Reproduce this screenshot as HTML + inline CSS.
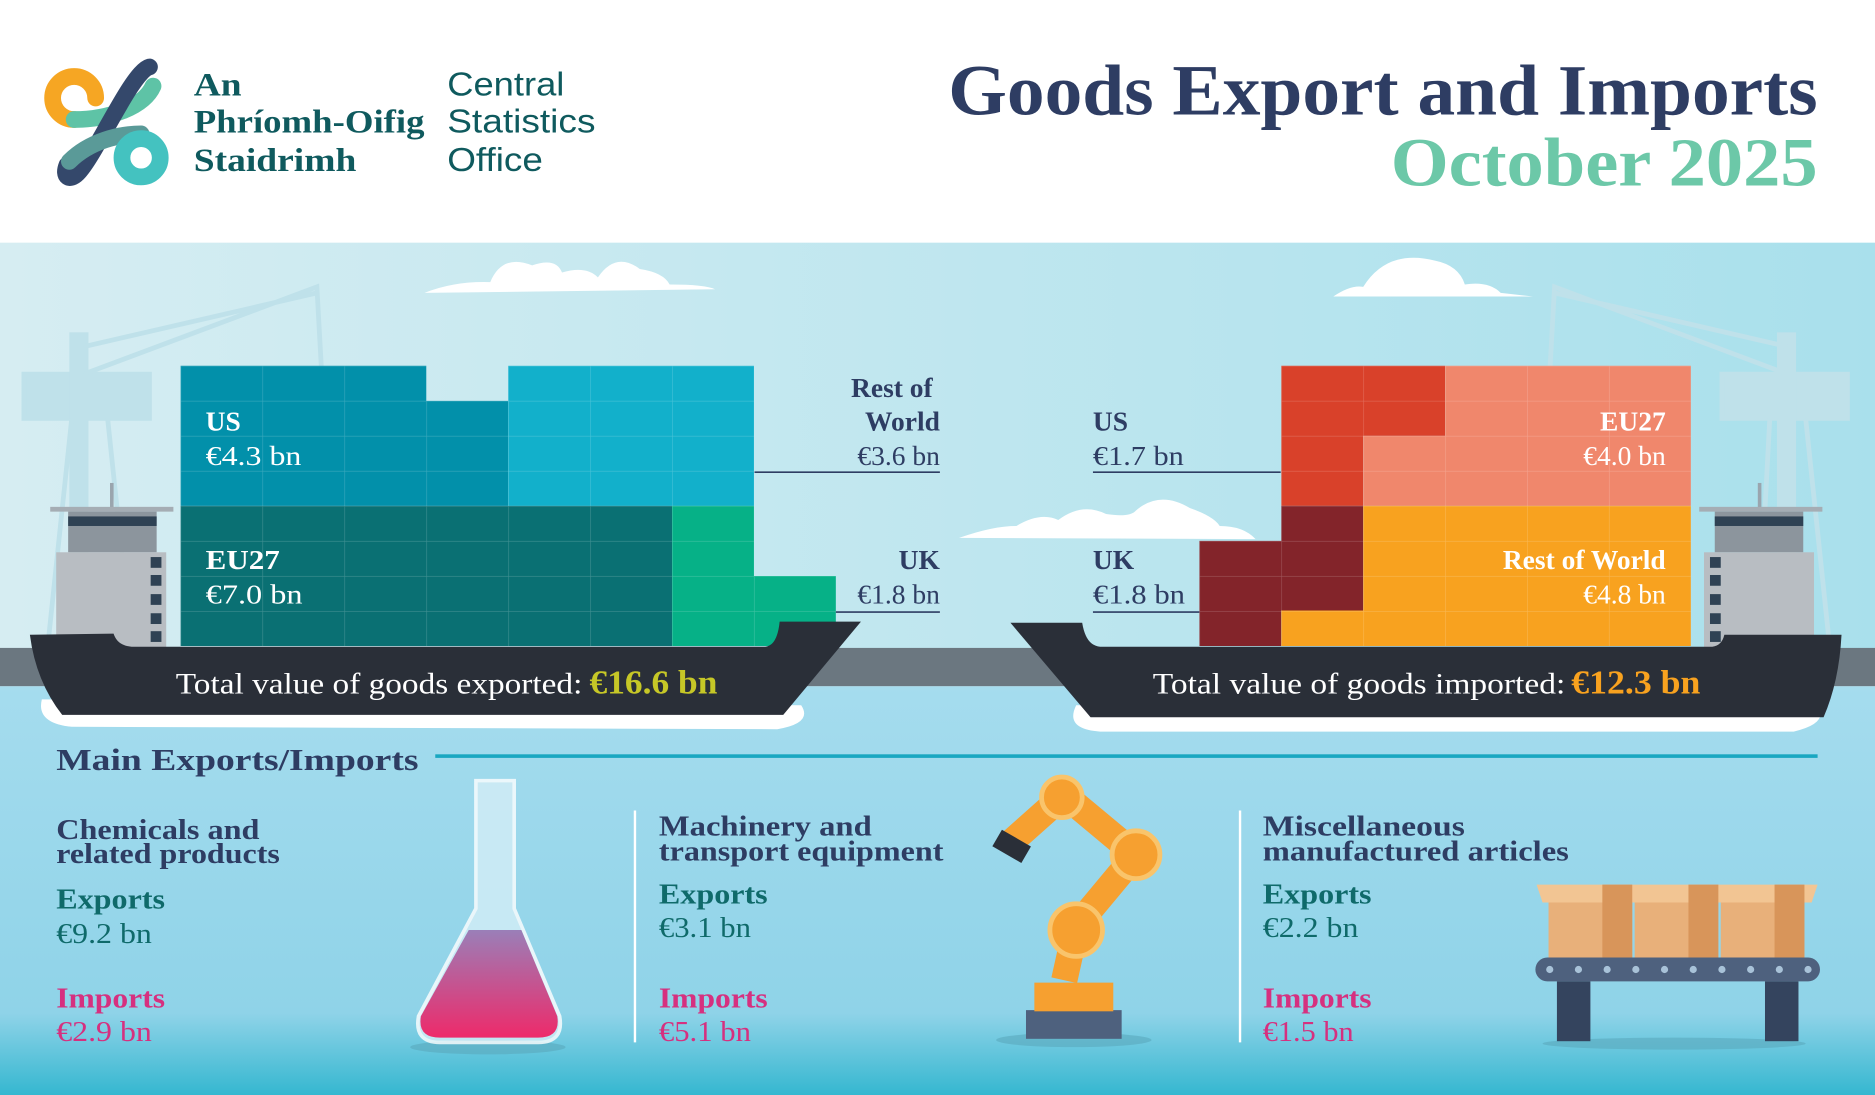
<!DOCTYPE html>
<html><head><meta charset="utf-8"><style>html,body{margin:0;padding:0;overflow:hidden;background:#fff}svg{display:block}</style></head>
<body>
<svg width="1875" height="1095" viewBox="0 0 1568 916" preserveAspectRatio="none" xmlns="http://www.w3.org/2000/svg" font-family="'Liberation Serif', serif">
<defs>
<linearGradient id="sky" x1="0" y1="0" x2="1" y2="0"><stop offset="0" stop-color="#d6edf2"/><stop offset="1" stop-color="#a9e0ec"/></linearGradient>
<linearGradient id="sea" x1="0" y1="0" x2="0" y2="1"><stop offset="0" stop-color="#a5dcee"/><stop offset="0.8" stop-color="#8fd3e8"/><stop offset="1" stop-color="#35b7d0"/></linearGradient>
<pattern id="g1" patternUnits="userSpaceOnUse" x="151" y="306" width="68.5" height="29.3"><path d="M0 0H68.5M0 0V29.3" stroke="#ffffff" stroke-opacity="0.22" stroke-width="1" fill="none"/></pattern>
<pattern id="g2" patternUnits="userSpaceOnUse" x="1003" y="306" width="68.5" height="29.3"><path d="M0 0H68.5M0 0V29.3" stroke="#ffffff" stroke-opacity="0.22" stroke-width="1" fill="none"/></pattern>
<linearGradient id="flask" x1="0" y1="0" x2="0" y2="1"><stop offset="0" stop-color="#9a7fb8"/><stop offset="1" stop-color="#ee2a6a"/></linearGradient>
</defs>
<rect width="1568" height="916" fill="#fff"/>
<!-- logo -->
<g fill="none" stroke-width="14" stroke-linecap="round">
<path d="M80 82 A18 18 0 1 0 62 100" stroke="#f6a623"/>
<path d="M62 100 C90 100 120 90 128 72" stroke="#5ec3a6"/>
<path d="M125 56 C110 60 80 130 65 145 C58 152 52 148 56 138" stroke="#34486b"/>
<path d="M58 135 C75 118 100 112 118 112" stroke="#5a9a98"/>
<circle cx="118" cy="132" r="16" stroke="#44c2c0"/>
</g>
<g font-weight="bold" fill="#0f5a5e" font-size="27" lengthAdjust="spacingAndGlyphs">
<text x="162" y="80" textLength="40" lengthAdjust="spacingAndGlyphs">An</text><text x="162" y="111" textLength="193" lengthAdjust="spacingAndGlyphs">Phríomh-Oifig</text><text x="162" y="143" textLength="136" lengthAdjust="spacingAndGlyphs">Staidrimh</text></g>
<g fill="#0f5a5e" font-size="28" font-family="'Liberation Sans', sans-serif">
<text x="374" y="80" textLength="98" lengthAdjust="spacingAndGlyphs">Central</text><text x="374" y="111" textLength="124" lengthAdjust="spacingAndGlyphs">Statistics</text><text x="374" y="143" textLength="80" lengthAdjust="spacingAndGlyphs">Office</text></g>
<text x="793" y="96" textLength="727" lengthAdjust="spacingAndGlyphs" font-size="60" font-weight="bold" fill="#2e3d63">Goods Export and Imports</text>
<text x="1163" y="155" textLength="357" lengthAdjust="spacingAndGlyphs" font-size="58" font-weight="bold" fill="#6cc8a8">October 2025</text>
<!-- sky & sea -->
<rect y="203" width="1568" height="340" fill="url(#sky)"/>
<rect y="574" width="1568" height="342" fill="url(#sea)"/>
<rect y="542" width="1568" height="32" fill="#6b7780"/>
<!-- cranes faint -->
<g fill="#bfe1ea" stroke="#bfe1ea" stroke-width="4">
<rect x="20" y="313" width="105" height="37"/><rect x="60" y="280" width="12" height="260"/><path d="M70 313 L265 240 L270 330 M70 290 L265 245" fill="none"/><path d="M40 540 L60 350 M110 540 L90 350" fill="none"/>
<rect x="1440" y="313" width="105" height="37"/><rect x="1488" y="280" width="12" height="260"/><path d="M1495 313 L1300 240 L1295 330 M1495 290 L1300 245" fill="none"/><path d="M1470 540 L1480 350 M1530 540 L1510 350" fill="none"/>
</g>
<!-- clouds -->
<g fill="#fff">
<path d="M355 245 Q380 235 410 236 Q420 212 445 222 Q465 215 470 228 Q490 222 500 232 Q515 210 535 225 Q555 228 560 238 Q590 238 598 242 Z"/>
<path d="M1115 248 Q1130 238 1140 240 Q1160 208 1200 218 Q1220 222 1225 238 Q1245 235 1255 245 L1282 248 Z"/>
<path d="M802 450 Q830 440 850 440 Q870 428 885 435 Q905 420 925 430 Q945 433 950 427 Q970 410 995 425 Q1015 432 1020 440 Q1040 440 1050 451 Z"/>
</g>
<!-- bridge towers -->
<g>
<rect x="92" y="404" width="3" height="22" fill="#9aa5ae"/><rect x="42" y="424" width="103" height="4" fill="#a5adb4"/>
<rect x="57" y="428" width="74" height="34" fill="#8c959d"/><rect x="57" y="432" width="74" height="8" fill="#2f4254"/>
<rect x="47" y="462" width="92" height="80" fill="#b8bdc2"/>
<g fill="#2f4254"><rect x="126" y="466" width="9" height="9"/><rect x="126" y="481" width="9" height="9"/><rect x="126" y="497" width="9" height="9"/><rect x="126" y="513" width="9" height="9"/><rect x="126" y="528" width="9" height="9"/></g>
<rect x="1470" y="404" width="3" height="22" fill="#9aa5ae"/><rect x="1421" y="424" width="103" height="4" fill="#a5adb4"/>
<rect x="1434" y="428" width="74" height="34" fill="#8c959d"/><rect x="1434" y="432" width="74" height="8" fill="#2f4254"/>
<rect x="1425" y="462" width="92" height="80" fill="#b8bdc2"/>
<g fill="#2f4254"><rect x="1430" y="466" width="9" height="9"/><rect x="1430" y="481" width="9" height="9"/><rect x="1430" y="497" width="9" height="9"/><rect x="1430" y="513" width="9" height="9"/><rect x="1430" y="528" width="9" height="9"/></g>
</g>
<!-- export containers -->
<g>
<path d="M151 306H356.5V335.3H425V423.2H151Z" fill="#0290aa"/>
<rect x="425" y="306" width="205.5" height="117.2" fill="#12b0cb"/>
<rect x="151" y="423.2" width="411" height="117.2" fill="#0a7073"/>
<path d="M562 423.2H630.5V481.8H699V540.4H562Z" fill="#06b187"/>
<path d="M151 306H356.5V335.3H425V306H630.5V481.8H699V540.4H151Z" fill="url(#g1)"/>
</g>
<g>
<path d="M1071.5 306H1208.5V364.6H1140V423.2H1071.5Z" fill="#d9412a"/>
<path d="M1208.5 306H1414V423.2H1140V364.6H1208.5Z" fill="#f0876c"/>
<path d="M1071.5 423.2H1140V510.7H1071.5V540.4H1003V452.5H1071.5Z" fill="#83242a"/>
<path d="M1140 423.2H1414V540.4H1071.5V510.7H1140Z" fill="#f8a21f"/>
<path d="M1071.5 306H1414V540.4H1003V452.5H1071.5Z" fill="url(#g2)"/>
</g>
<!-- waves -->
<path d="M35 585 Q30 605 60 608 L650 610 Q680 605 670 590 Z" fill="#fff"/>
<path d="M900 590 Q890 610 920 612 L1500 612 Q1530 605 1520 590 Z" fill="#fff"/>
<!-- hulls -->
<path d="M25 531 L95 530 Q98 540 110 541 L640 541 Q650 540 652 520 L720 520 L655 598 L52 598 Q30 570 25 531Z" fill="#2a2f38"/>
<path d="M845 521 L905 521 Q908 540 920 541 L1432 541 Q1440 540 1442 531 L1540 531 Q1538 570 1525 600 L912 600 Z" fill="#2a2f38"/>
<g font-size="25" fill="#fff">
<text x="147" y="580" textLength="340" lengthAdjust="spacingAndGlyphs">Total value of goods exported:</text><text x="493" y="580" textLength="107" lengthAdjust="spacingAndGlyphs" fill="#c6c727" font-weight="bold" font-size="28">€16.6 bn</text>
<text x="964" y="580" textLength="345" lengthAdjust="spacingAndGlyphs">Total value of goods imported:</text><text x="1314" y="580" textLength="108" lengthAdjust="spacingAndGlyphs" fill="#f8a21f" font-weight="bold" font-size="28">€12.3 bn</text>
</g>
<!-- labels on containers -->
<g font-size="23" fill="#fff">
<text x="172" y="360" font-weight="bold">US</text><text x="172" y="389" textLength="80" lengthAdjust="spacingAndGlyphs">€4.3 bn</text>
<text x="172" y="476" font-weight="bold" textLength="62" lengthAdjust="spacingAndGlyphs">EU27</text><text x="172" y="505" textLength="81" lengthAdjust="spacingAndGlyphs">€7.0 bn</text>
<g text-anchor="end"><text x="1393" y="360" font-weight="bold">EU27</text><text x="1393" y="389">€4.0 bn</text>
<text x="1393" y="476" font-weight="bold">Rest of World</text><text x="1393" y="505">€4.8 bn</text></g>
</g>
<g font-size="23" fill="#2e3d63">
<g text-anchor="end"><text x="780" y="332" font-weight="bold">Rest of</text><text x="786" y="360" font-weight="bold">World</text><text x="786" y="389">€3.6 bn</text>
<text x="786" y="476" font-weight="bold">UK</text><text x="786" y="505">€1.8 bn</text></g>
<text x="914" y="360" font-weight="bold">US</text><text x="914" y="389" textLength="76" lengthAdjust="spacingAndGlyphs">€1.7 bn</text>
<text x="914" y="476" font-weight="bold">UK</text><text x="914" y="505" textLength="77" lengthAdjust="spacingAndGlyphs">€1.8 bn</text>
</g>
<g stroke="#2e3d63" stroke-width="1.3"><path d="M631 395H786M699 512H786M914 395H1071M914 512H1003"/></g>
<!-- bottom section -->
<text x="47" y="644" font-size="26" font-weight="bold" fill="#2e3d63" textLength="303" lengthAdjust="spacingAndGlyphs">Main Exports/Imports</text>
<rect x="364" y="631" width="1156" height="3" fill="#19a7c1"/>
<g stroke="#fff" stroke-width="2"><path d="M531 678V872M1037 678V872"/></g>
<g font-size="24" font-weight="bold" fill="#2e3d63">
<text x="47" y="702" textLength="170" lengthAdjust="spacingAndGlyphs">Chemicals and</text><text x="47" y="722" textLength="187" lengthAdjust="spacingAndGlyphs">related products</text>
<text x="551" y="699" textLength="178" lengthAdjust="spacingAndGlyphs">Machinery and</text><text x="551" y="720" textLength="238" lengthAdjust="spacingAndGlyphs">transport equipment</text>
<text x="1056" y="699" textLength="169" lengthAdjust="spacingAndGlyphs">Miscellaneous</text><text x="1056" y="720" textLength="256" lengthAdjust="spacingAndGlyphs">manufactured articles</text>
</g>
<g font-size="24">
<g font-weight="bold" fill="#0f6a6a"><text x="47" y="760" textLength="91" lengthAdjust="spacingAndGlyphs">Exports</text><text x="551" y="756" textLength="91" lengthAdjust="spacingAndGlyphs">Exports</text><text x="1056" y="756" textLength="91" lengthAdjust="spacingAndGlyphs">Exports</text></g>
<g fill="#0f6a6a"><text x="47" y="789" textLength="80" lengthAdjust="spacingAndGlyphs">€9.2 bn</text><text x="551" y="784" textLength="77" lengthAdjust="spacingAndGlyphs">€3.1 bn</text><text x="1056" y="784" textLength="80" lengthAdjust="spacingAndGlyphs">€2.2 bn</text></g>
<g font-weight="bold" fill="#d6307f"><text x="47" y="843" textLength="91" lengthAdjust="spacingAndGlyphs">Imports</text><text x="551" y="843" textLength="91" lengthAdjust="spacingAndGlyphs">Imports</text><text x="1056" y="843" textLength="91" lengthAdjust="spacingAndGlyphs">Imports</text></g>
<g fill="#d6307f"><text x="47" y="871" textLength="80" lengthAdjust="spacingAndGlyphs">€2.9 bn</text><text x="551" y="871" textLength="77" lengthAdjust="spacingAndGlyphs">€5.1 bn</text><text x="1056" y="871" textLength="76" lengthAdjust="spacingAndGlyphs">€1.5 bn</text></g>
</g>
<!-- flask -->
<ellipse cx="408" cy="876" rx="65" ry="6" fill="#5aa8bd" opacity="0.6"/>
<path d="M398 653H430V760L468 850Q472 872 450 872H368Q346 872 350 850L398 760Z" fill="#d4eef7" opacity="0.8" stroke="#fff" stroke-width="3"/>
<path d="M392 778H436L466 850Q469 868 450 868H368Q349 868 352 850Z" fill="url(#flask)"/>
<!-- robot arm -->
<g>
<ellipse cx="898" cy="870" rx="65" ry="6" fill="#5aa8bd" opacity="0.6"/>
<rect x="858" y="845" width="80" height="24" fill="#4e617e"/><rect x="865" y="822" width="66" height="24" fill="#f6a030"/>
<path d="M890 820 L900 775 L950 715 L890 665 L845 705" fill="none" stroke="#f6a030" stroke-width="22" stroke-linejoin="round"/>
<circle cx="900" cy="778" r="22" fill="#f6a030" stroke="#f9c46b" stroke-width="4"/>
<circle cx="950" cy="715" r="20" fill="#f6a030" stroke="#f9c46b" stroke-width="4"/>
<circle cx="888" cy="667" r="17" fill="#f6a030" stroke="#f9c46b" stroke-width="4"/>
<rect x="832" y="700" width="28" height="16" fill="#2a2f38" transform="rotate(30 846 708)"/>
</g>
<!-- boxes conveyor -->
<ellipse cx="1400" cy="873" rx="110" ry="5" fill="#5aa8bd" opacity="0.6"/>
<g fill="#e8b07a"><rect x="1295" y="752" width="70" height="50"/><rect x="1367" y="752" width="70" height="50"/><rect x="1439" y="752" width="70" height="50"/></g>
<g fill="#f2c593"><path d="M1285 740H1520L1515 755H1290Z"/></g>
<g fill="#d8955a"><rect x="1340" y="740" width="25" height="62"/><rect x="1412" y="740" width="25" height="62"/><rect x="1484" y="740" width="25" height="62"/></g>
<rect x="1284" y="801" width="238" height="20" rx="10" fill="#4e617e"/>
<rect x="1302" y="821" width="28" height="50" fill="#34445e"/><rect x="1476" y="821" width="28" height="50" fill="#34445e"/>
<g fill="#a8c2d8"><circle cx="1296" cy="811" r="3"/><circle cx="1320" cy="811" r="3"/><circle cx="1344" cy="811" r="3"/><circle cx="1368" cy="811" r="3"/><circle cx="1392" cy="811" r="3"/><circle cx="1416" cy="811" r="3"/><circle cx="1440" cy="811" r="3"/><circle cx="1464" cy="811" r="3"/><circle cx="1488" cy="811" r="3"/><circle cx="1512" cy="811" r="3"/></g>
</svg>
</body></html>
